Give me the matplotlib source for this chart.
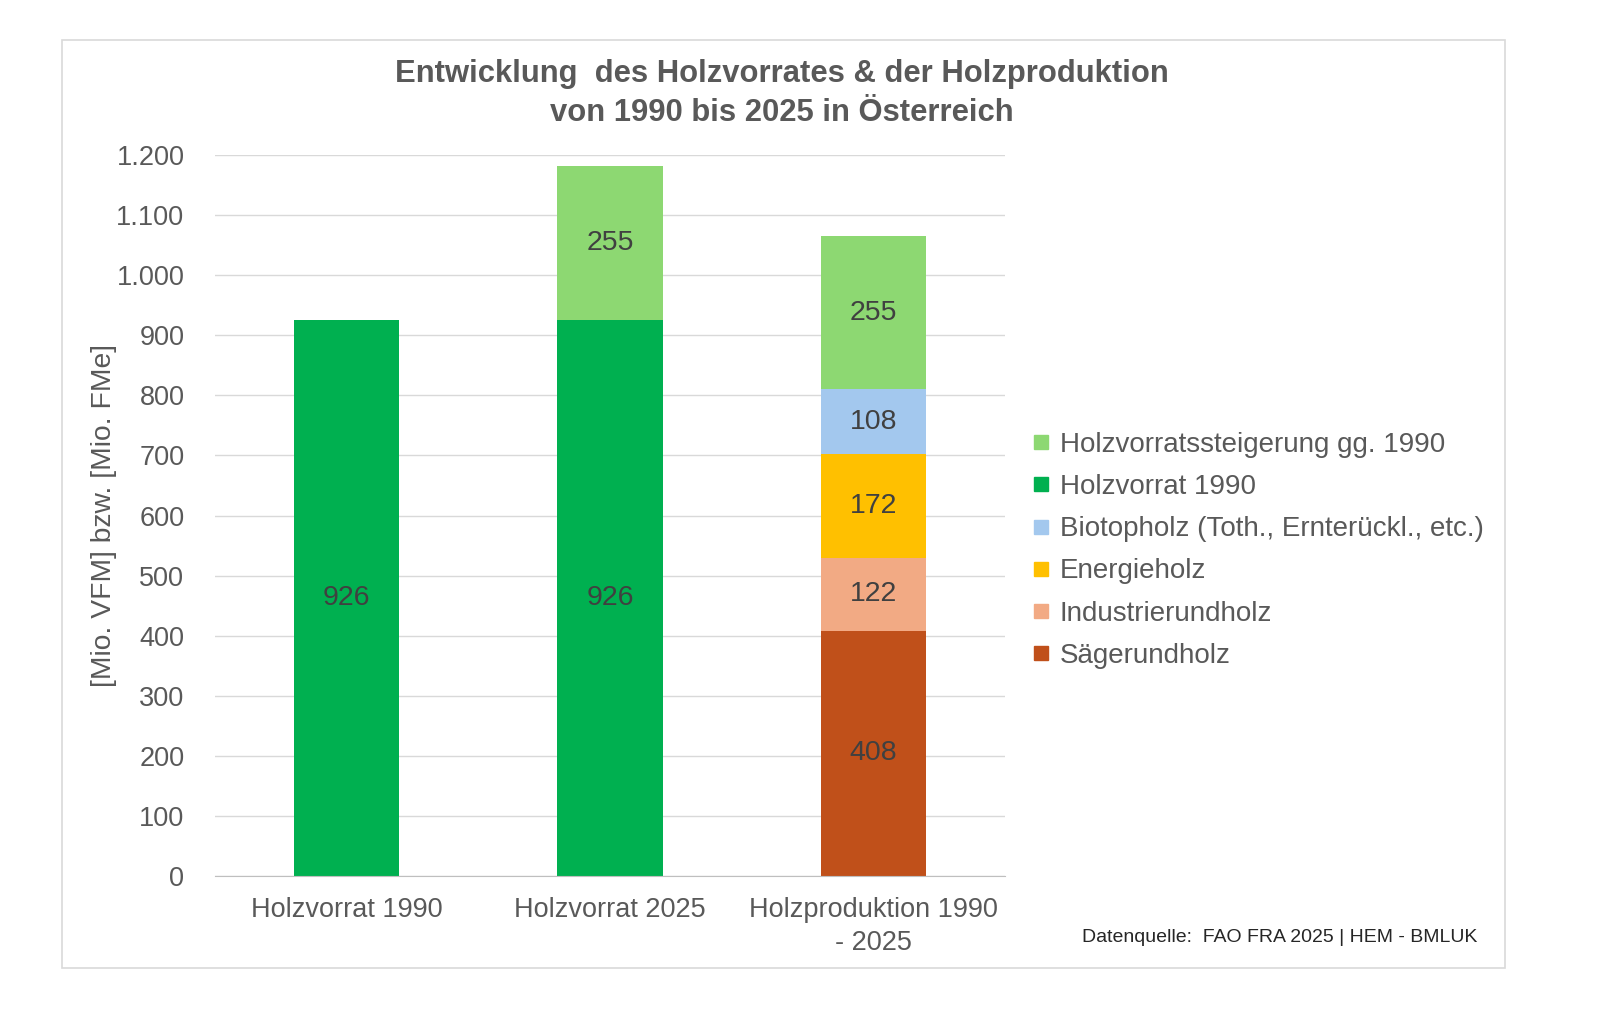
import matplotlib.pyplot as plt
from matplotlib.lines import Line2D
from matplotlib.patches import Rectangle

# chart data
categories = ['Holzvorrat 1990', 'Holzvorrat 2025', 'Holzproduktion 1990\n- 2025']
saegerundholz = [0, 0, 408]
industrierundholz = [0, 0, 122]
energieholz = [0, 0, 172]
biotopholz = [0, 0, 108]
holzvorrat_1990 = [926, 926, 0]
steigerung = [0, 255, 255]
y_ticks = [0, 100, 200, 300, 400, 500, 600, 700, 800, 900, 1000, 1100, 1200]
y_tick_labels = ['0', '100', '200', '300', '400', '500', '600', '700', '800',
                 '900', '1.000', '1.100', '1.200']

series = [
    ('Sägerundholz', saegerundholz, '#C0501A'),
    ('Industrierundholz', industrierundholz, '#F2AA84'),
    ('Energieholz', energieholz, '#FFC000'),
    ('Biotopholz (Toth., Ernterückl., etc.)', biotopholz, '#A3C8EE'),
    ('Holzvorrat 1990', holzvorrat_1990, '#00B050'),
    ('Holzvorratssteigerung gg. 1990', steigerung, '#8DD872'),
]

plt.rcParams['font.family'] = ['Liberation Sans', 'DejaVu Sans']

fig = plt.figure(figsize=(16, 10.3), dpi=100)
W, H = 1600, 1030
ax = fig.add_axes([215 / W, 1 - 876 / H, 790 / W, 721 / H])

# outer frame
fig.patches.append(Rectangle((62 / W, 1 - 968 / H), 1443 / W, 928 / H,
                             transform=fig.transFigure, fill=False,
                             edgecolor='#D9D9D9', linewidth=1.2))

x = list(range(len(categories)))
bottom = [0] * len(categories)
for name, vals, col in series:
    bars = ax.bar(x, vals, width=0.4, bottom=bottom, color=col, label=name, zorder=3)
    labels = [str(v) if v else '' for v in vals]
    ax.bar_label(bars, labels=labels, label_type='center', fontsize=20.5,
                 color='#404040')
    bottom = [b + v for b, v in zip(bottom, vals)]

ax.set_xlim(-0.5, 2.5)
ax.set_ylim(0, 1200)
ax.set_yticks(y_ticks)
ax.set_yticklabels(y_tick_labels)
ax.set_xticks(x)
ax.set_xticklabels(categories, linespacing=1.35)
ax.tick_params(axis='y', length=0, pad=22, labelsize=19.5, labelcolor='#595959')
ax.tick_params(axis='x', length=0, pad=15, labelsize=19.5, labelcolor='#595959')
ax.grid(axis='y', color='#D9D9D9', linewidth=1, zorder=0)
for s in ['top', 'right', 'left']:
    ax.spines[s].set_visible(False)
ax.spines['bottom'].set_color('#BFBFBF')
ax.spines['bottom'].set_zorder(4)

ax.set_ylabel('[Mio. VFM] bzw. [Mio. FMe]', fontsize=20.3, color='#595959')
ax.yaxis.set_label_coords(-0.124, 0.5)

fig.text(782 / W, 1 - 93.5 / H,
         'Entwicklung  des Holzvorrates & der Holzproduktion\nvon 1990 bis 2025 in Österreich',
         ha='center', va='center', fontsize=22.3, fontweight='bold',
         color='#595959', linespacing=1.35)

# legend, top entry first
handles = [Line2D([], [], linestyle='none', marker='s', markersize=10,
                  markerfacecolor=col, markeredgecolor=col)
           for _, _, col in series[::-1]]
leg_labels = [name for name, _, _ in series[::-1]]
fig.legend(handles, leg_labels, loc='upper left',
           bbox_to_anchor=(1022 / W, 1 - 421 / H), frameon=False,
           fontsize=20, labelcolor='#595959', handlelength=0.6,
           handletextpad=0.35, labelspacing=0.58, borderaxespad=0)

fig.text(1477 / W, 1 - 938 / H, 'Datenquelle:  FAO FRA 2025 | HEM - BMLUK',
         ha='right', va='center', fontsize=14, color='#262626')

fig.savefig('out.png', dpi=100, facecolor='white')
